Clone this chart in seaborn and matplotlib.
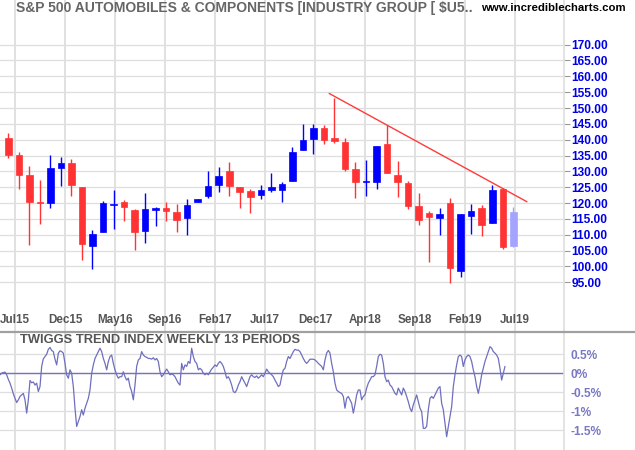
import numpy as np
import pandas as pd
import matplotlib
matplotlib.use("Agg")
import matplotlib.pyplot as plt
import seaborn as sns
from matplotlib.lines import Line2D

# ---------------- data ----------------
months = ["Jul15", "Aug15", "Sep15", "Oct15", "Nov15", "Dec15", "Jan16", "Feb16", "Mar16", "Apr16",
          "May16", "Jun16", "Jul16", "Aug16", "Sep16", "Oct16", "Nov16", "Dec16", "Jan17", "Feb17",
          "Mar17", "Apr17", "May17", "Jun17", "Jul17", "Aug17", "Sep17", "Oct17", "Nov17", "Dec17",
          "Jan18", "Feb18", "Mar18", "Apr18", "May18", "Jun18", "Jul18", "Aug18", "Sep18", "Oct18",
          "Nov18", "Dec18", "Jan19", "Feb19", "Mar19", "Apr19", "May19", "Jun19", "Jul19"]
opens = [140.5, 135.1, 128.9, 120.2, 119.9, 131.0, 132.6, 125.1, 106.5, 110.8,
         119.5, 120.4, 117.9, 111.1, 117.9, 118.5, 117.3, 115.2, 120.2, 122.1,
         125.6, 130.1, 125.0, 123.8, 122.6, 124.2, 124.2, 127.0, 136.8, 140.2,
         143.6, 140.5, 139.2, 130.7, 126.6, 126.7, 138.5, 128.8, 126.3, 119.0,
         116.7, 115.2, 120.1, 98.7, 115.9, 118.4, 113.7, 124.4, 106.4]
highs = [142.2, 136.1, 131.7, 127.3, 135.1, 134.5, 134.0, 125.1, 111.4, 120.7,
         124.2, 121.0, 118.2, 123.3, 118.9, 120.4, 119.8, 121.4, 121.4, 130.1,
         131.4, 132.9, 125.0, 124.3, 125.6, 129.4, 126.6, 137.6, 145.0, 144.8,
         144.5, 153.3, 140.4, 132.9, 133.5, 138.1, 144.5, 133.2, 126.8, 123.2,
         117.4, 118.4, 121.5, 116.5, 119.6, 119.3, 125.7, 124.6, 118.6]
lows = [134.3, 124.5, 106.8, 113.5, 118.5, 125.4, 122.1, 102.0, 99.3, 110.8,
        111.7, 114.3, 105.2, 107.4, 112.7, 114.3, 110.8, 109.9, 120.2, 121.5,
        123.6, 122.3, 118.5, 117.0, 121.4, 123.6, 120.4, 127.0, 136.8, 135.5,
        138.6, 139.0, 130.2, 121.7, 122.3, 124.5, 129.5, 122.0, 118.2, 113.2,
        101.5, 110.0, 94.6, 96.8, 110.3, 109.6, 113.7, 105.6, 106.2]
closes = [135.1, 128.9, 120.4, 120.0, 131.0, 132.6, 125.7, 107.1, 110.1, 120.1,
          119.8, 118.6, 110.8, 118.2, 118.3, 117.6, 114.6, 119.5, 121.4, 125.4,
          128.6, 125.4, 123.6, 122.0, 124.0, 125.0, 126.0, 136.0, 139.8, 143.6,
          139.9, 139.7, 130.8, 126.7, 127.1, 137.9, 129.5, 126.7, 119.2, 114.7,
          115.6, 116.5, 99.6, 116.5, 117.4, 113.0, 124.0, 106.2, 117.1]

tick_labels = ["Jul15", "Dec15", "May16", "Sep16", "Feb17", "Jul17",
               "Dec17", "Apr18", "Sep18", "Feb19", "Jul19"]
price_ticks = [95, 100, 105, 110, 115, 120, 125, 130, 135, 140, 145, 150, 155, 160, 165, 170]

# trend line (month index, price)
trend_t = [30.5, 49.3]
trend_v = [154.6, 120.4]

# Twiggs trend index, weekly 13 periods (%), read left to right
twiggs = [
    -0.04, 0.00, 0.02, 0.03, -0.04, -0.16, -0.26, -0.39, -0.54, -0.66,
    -0.77, -0.70, -0.61, -0.57, -0.53, -0.70, -1.05, -0.70, -0.19, -0.25,
    -0.23, -0.31, -0.26, -0.48, -0.35, 0.18, 0.38, 0.44, 0.50, 0.63,
    0.68, 0.60, 0.57, 0.37, 0.22, 0.53, 0.59, 0.57, 0.53, 0.26,
    -0.04, -0.13, 0.09, 0.00, -0.35, -0.92, -1.40, -1.27, -1.14, -0.96,
    -1.10, -0.92, -0.79, -0.66, -0.44, 0.00, 0.22, 0.39, 0.48, 0.57,
    0.66, 0.57, 0.39, 0.26, 0.09, 0.31, 0.44, 0.48, 0.26, 0.09,
    -0.04, -0.13, -0.09, -0.09, 0.04, -0.09, -0.18, -0.13, -0.35, -0.48,
    -0.70, -0.31, 0.18, 0.35, 0.39, 0.57, 0.48, 0.44, 0.42, 0.39,
    0.39, 0.37, 0.41, 0.35, 0.39, 0.31, 0.04, -0.09, -0.04, 0.04,
    0.11, 0.04, -0.04, -0.02, -0.04, -0.09, -0.18, -0.26, -0.31, 0.26,
    0.09, 0.22, 0.18, 0.31, 0.26, 0.66, 0.44, 0.31, 0.26, 0.09,
    0.13, 0.09, 0.00, -0.04, 0.00, -0.04, 0.04, 0.11, 0.16, 0.22,
    0.18, 0.26, 0.31, 0.26, 0.18, 0.04, -0.13, -0.09, -0.18, -0.31,
    -0.48, -0.51, -0.44, -0.31, -0.22, -0.09, -0.18, -0.26, -0.35, -0.22,
    -0.09, -0.04, -0.09, -0.11, -0.07, -0.13, -0.09, -0.04, -0.09, 0.00,
    0.11, 0.04, 0.00, -0.04, -0.09, -0.18, -0.26, -0.35, -0.31, -0.09,
    0.09, 0.13, 0.31, 0.44, 0.39, 0.48, 0.57, 0.63, 0.61, 0.61,
    0.57, 0.48, 0.39, 0.31, 0.26, 0.31, 0.37, 0.37, 0.37, 0.35,
    0.31, 0.26,
    0.22, 0.18, 0.09, 0.35, 0.53, 0.60, 0.53, 0.26, 0.04, -0.26,
    -0.44, -0.48, -0.51, -0.53, -0.61, -0.92, -0.66, -0.61, -0.70, -0.79,
    -1.05, -0.83, -0.57, -0.44, -0.44, -0.70, -0.61, -0.57, -0.39, -0.26,
    -0.18, -0.09, -0.09, -0.04, 0.18, 0.44, 0.50, 0.48, 0.26, -0.09,
    -0.22, -0.18, -0.31, -0.35, -0.44, -0.53, -0.57, -0.39, -0.48, -0.57,
    -0.39, -0.48, -0.61, -0.75, -0.92, -1.01, -0.83, -0.70, -0.57, -0.75,
    -0.92, -1.01, -1.45, -1.45, -1.40, -0.96, -0.66, -0.61, -0.66, -0.57,
    -0.48, -0.39, -0.35, -0.79, -0.96, -1.32, -1.67, -1.40, -1.14, -0.88,
    -0.35, -0.04, 0.22, 0.44, 0.48, 0.44, 0.18, 0.35, 0.44, 0.48,
    0.44, 0.31, 0.09, -0.09, -0.35, -0.53, -0.31, -0.04, 0.13, 0.31,
    0.44, 0.57, 0.70, 0.66, 0.57, 0.53, 0.48, 0.39, 0.13, -0.18,
    0.00, 0.18,
]
twiggs_ticks = [0.5, 0, -0.5, -1, -1.5]
twiggs_tick_labels = ["0.5%", "0%", "-0.5%", "-1%", "-1.5%"]

# ---------------- style ----------------
sns.set_theme(style="white")
plt.rcParams["font.family"] = ["Liberation Sans", "DejaVu Sans"]

W, H = 635, 450
fig = plt.figure(figsize=(W / 100, H / 100), dpi=100)
fig.patch.set_facecolor("white")


def rect(x0, y0, x1, y1):
    return [x0 / W, 1 - y1 / H, (x1 - x0) / W, (y1 - y0) / H]


ax = fig.add_axes(rect(0, 0, 564, 331))
ax2 = fig.add_axes(rect(0, 333, 564, 450))

RED, BLUE, LIGHT = "#ff3333", "#0000ff", "#a4a4ff"
GRID = "#dedede"

df = pd.DataFrame({"t": np.arange(len(months)), "open": opens, "high": highs,
                   "low": lows, "close": closes})
cols = [BLUE if c >= o else RED for o, c in zip(df["open"], df["close"])]
cols[-1] = LIGHT
df["color"] = cols

# grid positions along the month axis
tick_pos = 0.637 + 4.753 * np.arange(len(tick_labels))
xlim = (-0.79, 52.82)

# ---- main panel ----
ax.set_axisbelow(True)
ax.vlines(df["t"], df["low"], df["high"], colors=df["color"], lw=1.0, zorder=2)
body_lo = np.minimum(df["open"], df["close"])
body_h = np.abs(df["close"] - df["open"])
ax.bar(df["t"], body_h, bottom=body_lo, width=0.62, color=df["color"],
       edgecolor=df["color"], linewidth=0.5, zorder=3)
sns.lineplot(x=trend_t, y=trend_v, ax=ax, color="#ff3b3b", lw=1.0, zorder=4)

ax.set_xlim(*xlim)
ax.set_ylim(79.6, 184.1)
ax.set_xticks(tick_pos)
ax.set_xticklabels(tick_labels)
ax.set_yticks(price_ticks)
ax.set_yticklabels([f"{v:.2f}" for v in price_ticks])
ax.yaxis.tick_right()
ax.tick_params(axis="y", right=True, length=4.5, width=0.8, color="#999999", pad=1,
               labelsize=8.6, labelcolor="#0000e8")
for lab in ax.get_yticklabels():
    lab.set_fontweight("bold")
ax.tick_params(axis="x", bottom=False, length=0, pad=-12.5, labelsize=8.4, labelcolor="#555555")
for lab in ax.get_xticklabels():
    lab.set_fontweight("bold")
ax.grid(axis="x", color=GRID, lw=1.3)
ax.grid(axis="y", color=GRID, lw=0.9)
for s in ["left", "top", "bottom"]:
    ax.spines[s].set_visible(False)
ax.spines["right"].set_color(GRID)
ax.spines["right"].set_linewidth(1.2)
ax.set_xlabel("")
ax.set_ylabel("")

# ---- indicator panel ----
ind_t = np.linspace(-0.79, 47.21, len(twiggs))
ax2.set_axisbelow(True)
ax2.axhline(0, color="#7373c2", lw=1.0, zorder=2)
sns.lineplot(x=ind_t, y=twiggs, ax=ax2, color="#6f6fbf", lw=0.9, zorder=3)
ax2.set_xlim(*xlim)
ax2.set_ylim(-2.02, 1.06)
ax2.set_xticks(tick_pos)
ax2.set_xticklabels([])
ax2.set_yticks(twiggs_ticks)
ax2.set_yticklabels(twiggs_tick_labels)
ax2.yaxis.tick_right()
ax2.tick_params(axis="y", right=True, length=0, pad=4.5, labelsize=8.6, labelcolor="#7878c4")
for lab in ax2.get_yticklabels():
    lab.set_fontweight("bold")
ax2.tick_params(axis="x", bottom=False, length=0)
ax2.grid(axis="x", color=GRID, lw=1.3)
ax2.grid(axis="y", color=GRID, lw=0.9)
for s in ["left", "top", "bottom"]:
    ax2.spines[s].set_visible(False)
ax2.spines["right"].set_color(GRID)
ax2.spines["right"].set_linewidth(1.2)
ax2.set_xlabel("")
ax2.set_ylabel("")

# separator between panels
fig.add_artist(Line2D([0, 1], [1 - 332 / H, 1 - 332 / H], transform=fig.transFigure,
                      color="#a0a0a0", lw=1.6))

# titles
fig.text(16 / W, 1 - 8 / H, "S&P 500 AUTOMOBILES & COMPONENTS [INDUSTRY GROUP [ $U5..",
         ha="left", va="center", fontsize=10, fontweight="bold", color="#666666")
fig.text(626 / W, 1 - 8 / H, "www.incrediblecharts.com", ha="right", va="center",
         fontsize=8.2, fontweight="bold", color="#000000")
fig.text(20 / W, 1 - 340 / H, "TWIGGS TREND INDEX WEEKLY 13 PERIODS", ha="left", va="center",
         fontsize=9.25, fontweight="bold", color="#555555")

fig.savefig("out.png", dpi=100, facecolor="white")
